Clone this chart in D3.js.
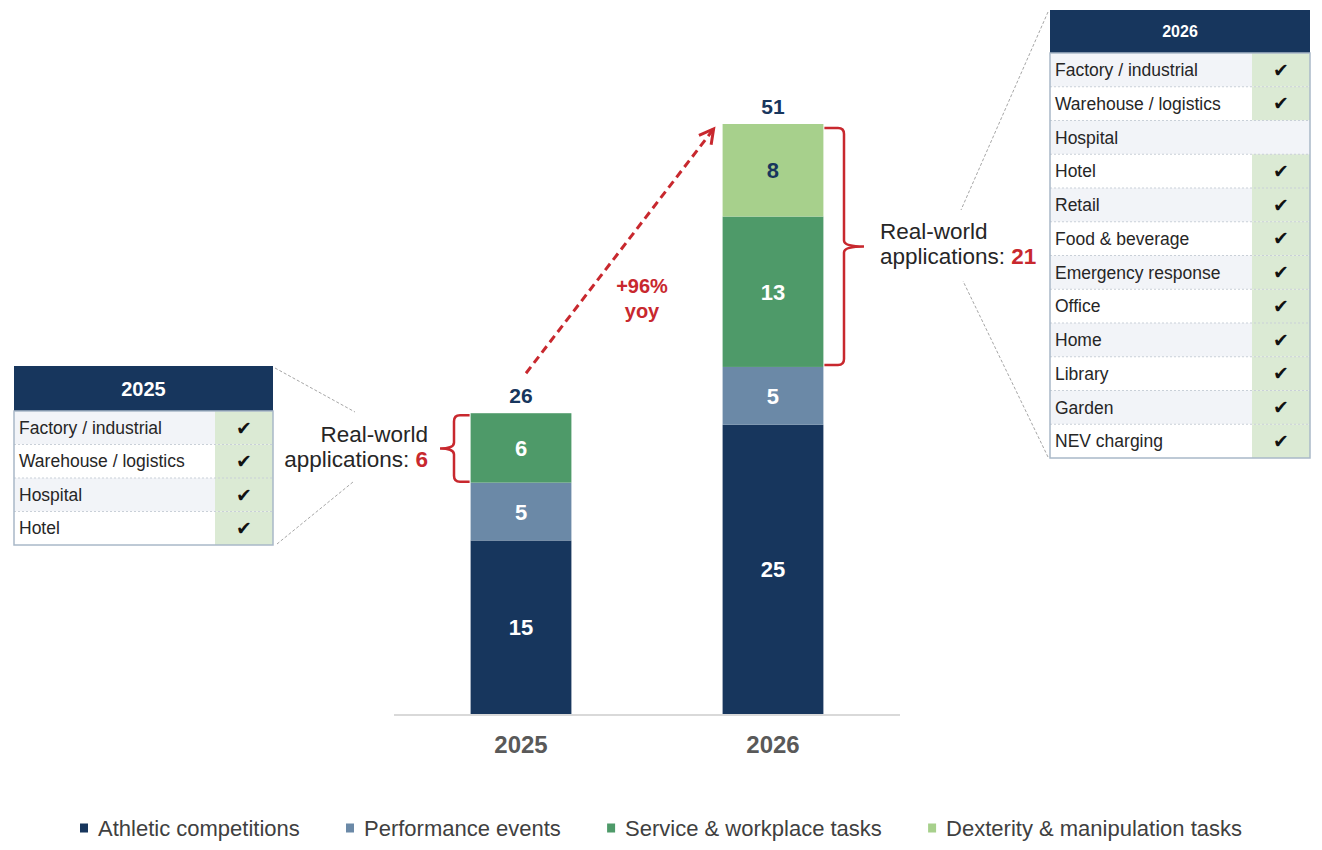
<!DOCTYPE html>
<html>
<head>
<meta charset="utf-8">
<script src="https://cdn.jsdelivr.net/npm/d3@7"></script>
<style>
  body { margin: 0; background: #fff; }
  svg { font-family: "Liberation Sans", Arial, sans-serif; }
</style>
</head>
<body>
<svg id="fig" width="1322" height="850"></svg>
<script>
// data
const years = ["2025", "2026"];
const seriesNames = ["Athletic competitions", "Performance events", "Service & workplace tasks", "Dexterity & manipulation tasks"];
const athletic = [15, 25];
const performance = [5, 5];
const service = [6, 13];
const dexterity = [0, 8];
const totals = [26, 51];
const realWorld = [6, 21];
const growthLabel = ["+96%", "yoy"];

const rows2025 = ["Factory / industrial", "Warehouse / logistics", "Hospital", "Hotel"];
const checks2025 = [true, true, true, true];
const rows2026 = ["Factory / industrial", "Warehouse / logistics", "Hospital", "Hotel", "Retail", "Food & beverage",
    "Emergency response", "Office", "Home", "Library", "Garden", "NEV charging"];
const checks2026 = [true, true, false, true, true, true, true, true, true, true, true, true];

const colors = ["#17365d", "#6b89a7", "#4e9a69", "#a7d08c"];
const red = "#c8282e";

const svg = d3.select("#fig");

// scales
const x = d3.scaleBand().domain(years).range([394, 900]).paddingInner(0.6).paddingOuter(0.304);
const y = d3.scaleLinear().domain([0, 51]).range([714, 124]);

// stacked data
const rows = years.map((yr, i) => ({year: yr, a: athletic[i], p: performance[i], s: service[i], d: dexterity[i]}));
const stack = d3.stack().keys(["a", "p", "s", "d"])(rows);

const g = svg.append("g");
stack.forEach((layer, li) => {
    layer.forEach(seg => {
        const v = seg[1] - seg[0];
        if (v <= 0) return;
        const yr = seg.data.year;
        g.append("rect")
            .attr("x", x(yr))
            .attr("y", y(seg[1]))
            .attr("width", x.bandwidth())
            .attr("height", y(seg[0]) - y(seg[1]))
            .attr("fill", colors[li]);
        g.append("text")
            .attr("x", x(yr) + x.bandwidth() / 2)
            .attr("y", (y(seg[0]) + y(seg[1])) / 2 + 8)
            .attr("text-anchor", "middle")
            .attr("font-size", 22)
            .attr("font-weight", "bold")
            .attr("fill", li === 3 ? "#17365d" : "#fff")
            .text(v);
    });
});

// baseline
svg.append("line")
    .attr("x1", 394).attr("x2", 900)
    .attr("y1", y(0) + 1).attr("y2", y(0) + 1)
    .attr("stroke", "#d9d9d9").attr("stroke-width", 2);

// category labels
years.forEach(yr => {
    svg.append("text")
        .attr("x", x(yr) + x.bandwidth() / 2)
        .attr("y", 753)
        .attr("text-anchor", "middle")
        .attr("font-size", 24)
        .attr("font-weight", "bold")
        .attr("fill", "#595959")
        .text(yr);
});

// totals
years.forEach((yr, i) => {
    svg.append("text")
        .attr("x", x(yr) + x.bandwidth() / 2)
        .attr("y", y(totals[i]) - 10)
        .attr("text-anchor", "middle")
        .attr("font-size", 21)
        .attr("font-weight", "bold")
        .attr("fill", "#17365d")
        .text(totals[i]);
});

// growth arrow
const ax1 = x("2025") + x.bandwidth() / 2 + 5, ay1 = y(totals[0]) - 40;
const ax2 = x("2026") - 9, ay2 = y(totals[1]) + 5;
svg.append("line")
    .attr("x1", ax1).attr("y1", ay1).attr("x2", ax2).attr("y2", ay2)
    .attr("stroke", red).attr("stroke-width", 3).attr("stroke-dasharray", "8,5");
{
    const ang = Math.atan2(ay2 - ay1, ax2 - ax1);
    const L = 16, spread = 0.5;
    const p1 = [ax2 - L * Math.cos(ang - spread), ay2 - L * Math.sin(ang - spread)];
    const p2 = [ax2 - L * Math.cos(ang + spread), ay2 - L * Math.sin(ang + spread)];
    svg.append("path")
        .attr("d", `M${p1[0]},${p1[1]}L${ax2},${ay2}L${p2[0]},${p2[1]}`)
        .attr("fill", "none").attr("stroke", red).attr("stroke-width", 3);
}
growthLabel.forEach((t, i) => {
    svg.append("text")
        .attr("x", 642).attr("y", 293 + i * 25)
        .attr("text-anchor", "middle")
        .attr("font-size", 20).attr("font-weight", "bold")
        .attr("fill", red)
        .text(t);
});

// curly braces
function brace(xb, xv, tip, y0, y1) {
    const ym = (y0 + y1) / 2;
    const r = 6;
    const s = Math.sign(xb - xv);
    return `M${xb},${y0} L${xv + s * r},${y0} Q${xv},${y0} ${xv},${y0 + r}`
        + ` L${xv},${ym - r} Q${xv},${ym} ${tip},${ym} Q${xv},${ym} ${xv},${ym + r}`
        + ` L${xv},${y1 - r} Q${xv},${y1} ${xv + s * r},${y1} L${xb},${y1}`;
}
svg.append("path")
    .attr("d", brace(x("2025") - 1, 454, 440, y(totals[0]) + 2, y(athletic[0] + performance[0]) - 1))
    .attr("fill", "none").attr("stroke", red).attr("stroke-width", 2.5);
svg.append("path")
    .attr("d", brace(x("2026") + x.bandwidth() + 1, 844, 864, y(totals[1]) + 4, y(athletic[1] + performance[1]) - 2))
    .attr("fill", "none").attr("stroke", red).attr("stroke-width", 2.5);

// real-world labels
function realWorldLabel(xp, yp, anchor, n) {
    const t = svg.append("text").attr("x", xp).attr("y", yp)
        .attr("text-anchor", anchor).attr("font-size", 22.5).attr("fill", "#262626");
    t.append("tspan").attr("x", xp).text("Real-world");
    const t2 = t.append("tspan").attr("x", xp).attr("dy", 25);
    t2.append("tspan").text("applications: ");
    t2.append("tspan").attr("fill", red).attr("font-weight", "bold").text(n);
}
realWorldLabel(428, 442, "end", realWorld[0]);
realWorldLabel(880, 239, "start", realWorld[1]);

// connector lines
const conn = [[275, 368, 355, 412], [277, 544, 353, 482], [1048, 12, 961, 210], [1048, 457, 963, 281]];
conn.forEach(c => {
    svg.append("line")
        .attr("x1", c[0]).attr("y1", c[1]).attr("x2", c[2]).attr("y2", c[3])
        .attr("stroke", "#a6a6a6").attr("stroke-width", 1).attr("stroke-dasharray", "3,2");
});

// tables
function drawTable(x0, y0, w, headH, rowH, checkW, title, titleSize, names, checks) {
    const tg = svg.append("g");
    tg.append("rect").attr("x", x0).attr("y", y0).attr("width", w).attr("height", headH).attr("fill", "#17365d");
    tg.append("text").attr("x", x0 + w / 2).attr("y", y0 + headH / 2)
        .attr("dy", "0.35em").attr("text-anchor", "middle")
        .attr("font-size", titleSize).attr("font-weight", "bold").attr("fill", "#fff").text(title);
    const by = y0 + headH;
    const row = tg.selectAll("g.row").data(names).join("g")
        .attr("transform", (d, i) => `translate(${x0},${by + i * rowH})`);
    row.append("rect").attr("width", w).attr("height", rowH)
        .attr("fill", (d, i) => i % 2 === 0 ? "#f2f4f8" : "#fff");
    row.filter((d, i) => checks[i]).append("rect")
        .attr("x", w - checkW).attr("width", checkW).attr("height", rowH).attr("fill", "#dbead4");
    row.append("text").attr("x", 5).attr("y", rowH / 2).attr("dy", "0.35em")
        .attr("font-size", 17.5).attr("fill", "#262626").text(d => d);
    row.filter((d, i) => checks[i]).append("text")
        .attr("x", w - checkW / 2).attr("y", rowH / 2).attr("dy", "0.36em")
        .attr("text-anchor", "middle").attr("font-family", "DejaVu Sans")
        .attr("font-size", 19).attr("fill", "#111").text("\u2714");
    row.filter((d, i) => i > 0).append("line")
        .attr("x1", 0).attr("x2", w).attr("y1", 0).attr("y2", 0)
        .attr("stroke", "#c9d0d8").attr("stroke-dasharray", "2,2");
    tg.append("rect").attr("x", x0).attr("y", by).attr("width", w).attr("height", rowH * names.length)
        .attr("fill", "none").attr("stroke", "#a9b8c8").attr("stroke-width", 1.5);
}
drawTable(14, 366, 259, 45, 33.5, 58, "2025", 20, rows2025, checks2025);
drawTable(1050, 10, 260, 43, 33.75, 58, "2026", 16, rows2026, checks2026);

// legend
const legend = svg.append("g");
const items = legend.selectAll("g").data(seriesNames).join("g");
items.append("rect").attr("width", 8).attr("height", 9).attr("y", -4.5)
    .attr("fill", (d, i) => colors[i]);
items.append("text").attr("x", 18).attr("y", 0).attr("dy", "0.35em")
    .attr("font-size", 22).attr("fill", "#404040").text(d => d);
{
    const widths = items.nodes().map(n => 18 + d3.select(n).select("text").node().getComputedTextLength());
    const span = 1242 - 80;
    const gap = (span - d3.sum(widths)) / (widths.length - 1);
    let cx = 80;
    items.attr("transform", (d, i) => {
        const t = `translate(${cx},828)`;
        cx += widths[i] + gap;
        return t;
    });
}
</script>
</body>
</html>
